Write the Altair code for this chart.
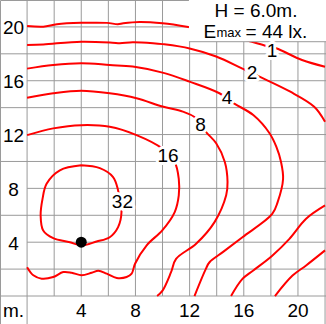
import altair as alt
import pandas as pd

# ---------------- data (metres) ----------------
lvl1a_x = [0, 1.2, 2.2, 4.0, 5.9, 6.7, 7.1, 8.3, 10.0, 11.9, 13.5, 15.2, 16.6, 17.7, 18.4, 20.3, 22.0]
lvl1a_y = [20.07, 20.02, 20.2, 20.3, 20.3, 20.2, 20.27, 20.37, 20.27, 20.0, 19.7, 19.3, 18.9, 18.58, 18.41, 17.54, 17.04]
lvl1b_x = [22.0, 20.6, 19.6, 18.3]
lvl1b_y = [3.39, 2.27, 1.52, 0.0]

lvl2a_x = [0, 1.2, 4.0, 6.3, 6.85, 7.8, 9.3, 10.0, 12.0, 13.96, 15.9, 17.16, 19.4, 21.2, 22.0]
lvl2a_y = [18.65, 18.7, 18.9, 18.83, 18.79, 18.86, 18.79, 18.72, 18.4, 17.8, 16.9, 16.3, 15.2, 14.07, 12.95]
lvl2b_x = [22.0, 20.6, 19.37, 18.1, 16.7, 15.9, 15.06]
lvl2b_y = [6.73, 5.74, 4.25, 3.0, 1.9, 1.27, 0.0]

lvl4_x = [0, 1.93, 4.0, 6.1, 7.8, 10.0, 12.0, 14.2, 15.3, 16.7, 17.9, 18.4, 18.75, 18.9, 18.5, 18.1, 15.9, 14.45, 13.47, 13.2, 12.36]
lvl4_y = [16.9, 17.17, 17.3, 17.17, 17.05, 16.6, 15.93, 15.07, 14.3, 13.45, 12.1, 11.1, 9.96, 8.7, 6.98, 6.1, 4.37, 3.26, 2.51, 2.02, 0.0]

lvl8_x = [0, 1.93, 4.0, 6.1, 8.08, 10.0, 11.5, 12.36, 13.2, 13.96, 14.6, 14.8, 14.7, 13.84, 12.48, 11.0, 10.63, 10.0, 9.6]
lvl8_y = [14.74, 15.07, 15.26, 15.07, 14.7, 14.08, 13.7, 13.3, 12.2, 11.35, 9.96, 8.47, 7.48, 5.49, 3.88, 2.76, 1.77, 0.4, 0.0]

lvl16_x = [0, 1.93, 4.0, 6.1, 8.08, 9.97, 10.9, 11.2, 11.2, 10.9, 9.98, 8.83, 7.97, 7.72, 7.35, 6.62, 5.88, 5.26, 4.77, 4.03, 3.29, 2.67, 1.93, 1.08, 0.46, 0]
lvl16_y = [11.96, 12.46, 12.7, 12.58, 11.96, 10.97, 9.96, 8.7, 7.48, 6.24, 4.88, 3.77, 2.4, 1.66, 1.41, 1.34, 1.66, 1.88, 1.73, 1.54, 1.73, 1.78, 1.41, 1.29, 1.54, 2.14]

lvl32_x = [4.0, 5.37, 6.35, 6.72, 6.97, 6.72, 6.1, 5.13, 4.0, 3.16, 1.93, 1.19, 1.0, 1.14, 1.44, 2.42, 4.0]
lvl32_y = [9.71, 9.5, 8.84, 7.85, 6.24, 5.12, 4.37, 4.05, 3.76, 4.0, 4.3, 4.87, 5.99, 7.22, 8.34, 9.34, 9.71]

label_text = ["1", "2", "4", "8", "16", "32"]
label_x = [18.08, 16.6, 14.76, 12.8, 10.4, 7.04]
label_y = [18.2, 16.6, 14.68, 12.7, 10.44, 7.02]

lamp_x = [4.0]
lamp_y = [4.0]

x_ticks = [4, 8, 12, 16, 20]
y_ticks = [4, 8, 12, 16, 20]
unit_label = "m."

grid_steps = [2, 4, 6, 8, 10, 12, 14, 16, 18, 20]

header_h = "H = 6.0m."
header_e = "E"
header_sub = "max"
header_val = "= 44 lx."

# ---------------- build tables ----------------
segs = [("1a", lvl1a_x, lvl1a_y), ("1b", lvl1b_x, lvl1b_y),
        ("2a", lvl2a_x, lvl2a_y), ("2b", lvl2b_x, lvl2b_y),
        ("4", lvl4_x, lvl4_y), ("8", lvl8_x, lvl8_y),
        ("16", lvl16_x, lvl16_y), ("32", lvl32_x, lvl32_y)]
rows = []
for name, xs_, ys_ in segs:
    for i, (a, b) in enumerate(zip(xs_, ys_)):
        rows.append({"seg": name, "o": i, "x": a, "y": b})
contours = pd.DataFrame(rows)

XMIN, XMAX = -2.0, 22.07
YMIN, YMAX = -2.08, 22.0
xs = alt.Scale(domain=[XMIN, XMAX], nice=False, zero=False)
ys = alt.Scale(domain=[YMIN, YMAX], nice=False, zero=False)

grid_rows = []
for g in grid_steps:
    grid_rows.append({"x": g, "x2": g, "y": 0, "y2": YMAX})
for g in grid_steps:
    start = 0 if g in y_ticks else XMIN
    grid_rows.append({"x": start, "x2": XMAX, "y": g, "y2": g})
grid_rows.append({"x": XMIN, "x2": XMAX, "y": 0, "y2": 0})
grid_rows.append({"x": 0, "x2": 0, "y": YMIN, "y2": YMAX})
grid_rows.append({"x": 22, "x2": 22, "y": YMIN, "y2": YMAX})
grid = pd.DataFrame(grid_rows)

GRID = "#9a9a9a"
FONT = "Liberation Sans"

grid_layer = alt.Chart(grid).mark_rule(color=GRID, strokeWidth=1).encode(
    x=alt.X("x:Q", scale=xs, axis=None), x2="x2:Q",
    y=alt.Y("y:Q", scale=ys, axis=None), y2="y2:Q")

lines = alt.Chart(contours).mark_line(color="#ff0000", strokeWidth=2, interpolate="catmull-rom", clip=True).encode(
    x=alt.X("x:Q", scale=xs, axis=None),
    y=alt.Y("y:Q", scale=ys, axis=None),
    detail="seg:N", order="o:Q")

box_df = pd.DataFrame({"x": [11.95], "x2": [XMAX], "y": [18.9], "y2": [YMAX]})
box = alt.Chart(box_df).mark_rect(color="white").encode(
    x=alt.X("x:Q", scale=xs, axis=None), x2="x2:Q",
    y=alt.Y("y:Q", scale=ys, axis=None), y2="y2:Q")
box_line = alt.Chart(box_df).mark_rule(color=GRID, strokeWidth=1).encode(
    x=alt.X("x:Q", scale=xs, axis=None), x2="x2:Q",
    y=alt.Y("y:Q", scale=ys, axis=None))

lamp = alt.Chart(pd.DataFrame({"x": lamp_x, "y": lamp_y})).mark_point(
    shape="circle", filled=True, color="black", size=121, opacity=1).encode(
    x=alt.X("x:Q", scale=xs, axis=None), y=alt.Y("y:Q", scale=ys, axis=None))

lab_df = pd.DataFrame({"t": label_text, "x": label_x, "y": label_y})
lab_halo = alt.Chart(lab_df).mark_text(font=FONT, fontSize=19, color="white", stroke="white",
                                       strokeWidth=6, strokeJoin="round", baseline="middle").encode(
    x=alt.X("x:Q", scale=xs, axis=None), y=alt.Y("y:Q", scale=ys, axis=None), text="t:N")
lab_txt = alt.Chart(lab_df).mark_text(font=FONT, fontSize=19, color="black", baseline="middle").encode(
    x=alt.X("x:Q", scale=xs, axis=None), y=alt.Y("y:Q", scale=ys, axis=None), text="t:N")

ytick_df = pd.DataFrame({"t": [str(v) for v in y_ticks], "x": [-1.0] * len(y_ticks), "y": y_ticks})
ytick_halo = alt.Chart(ytick_df).mark_text(font=FONT, fontSize=19, color="white", stroke="white",
                                           strokeWidth=5, baseline="alphabetic", dy=7.5).encode(
    x=alt.X("x:Q", scale=xs, axis=None), y=alt.Y("y:Q", scale=ys, axis=None), text="t:N")
ytick_txt = alt.Chart(ytick_df).mark_text(font=FONT, fontSize=19, color="black",
                                          baseline="alphabetic", dy=7.5).encode(
    x=alt.X("x:Q", scale=xs, axis=None), y=alt.Y("y:Q", scale=ys, axis=None), text="t:N")

xtick_df = pd.DataFrame({"t": [unit_label] + [str(v) for v in x_ticks],
                         "x": [-1.0] + x_ticks, "y": [0.0] * (len(x_ticks) + 1)})
xtick_txt = alt.Chart(xtick_df).mark_text(font=FONT, fontSize=19, color="black",
                                          baseline="alphabetic", dy=21).encode(
    x=alt.X("x:Q", scale=xs, axis=None), y=alt.Y("y:Q", scale=ys, axis=None), text="t:N")

hdr1 = alt.Chart(pd.DataFrame({"t": [header_h], "x": [16.9], "y": [20.76]})).mark_text(
    font=FONT, fontSize=19, color="black", baseline="alphabetic", align="center").encode(
    x=alt.X("x:Q", scale=xs, axis=None), y=alt.Y("y:Q", scale=ys, axis=None), text="t:N")
hdr2 = alt.Chart(pd.DataFrame({"t": [header_e, header_val], "x": [13.03, 16.13], "y": [19.2, 19.2]})).mark_text(
    font=FONT, fontSize=19, color="black", baseline="alphabetic", align="left").encode(
    x=alt.X("x:Q", scale=xs, axis=None), y=alt.Y("y:Q", scale=ys, axis=None), text="t:N")
hdr3 = alt.Chart(pd.DataFrame({"t": [header_sub], "x": [13.98], "y": [19.22]})).mark_text(
    font=FONT, fontSize=13, color="black", baseline="alphabetic", align="left").encode(
    x=alt.X("x:Q", scale=xs, axis=None), y=alt.Y("y:Q", scale=ys, axis=None), text="t:N")

chart = alt.layer(grid_layer, lines, box, box_line, lamp, lab_halo, lab_txt,
                  ytick_halo, ytick_txt, xtick_txt, hdr1, hdr2, hdr3).properties(
    width=326, height=324, padding=0, autosize="none", background="white"
).configure_view(stroke=GRID, strokeWidth=1)

chart.save("out.html", embed_options={"renderer": "svg", "actions": False})
